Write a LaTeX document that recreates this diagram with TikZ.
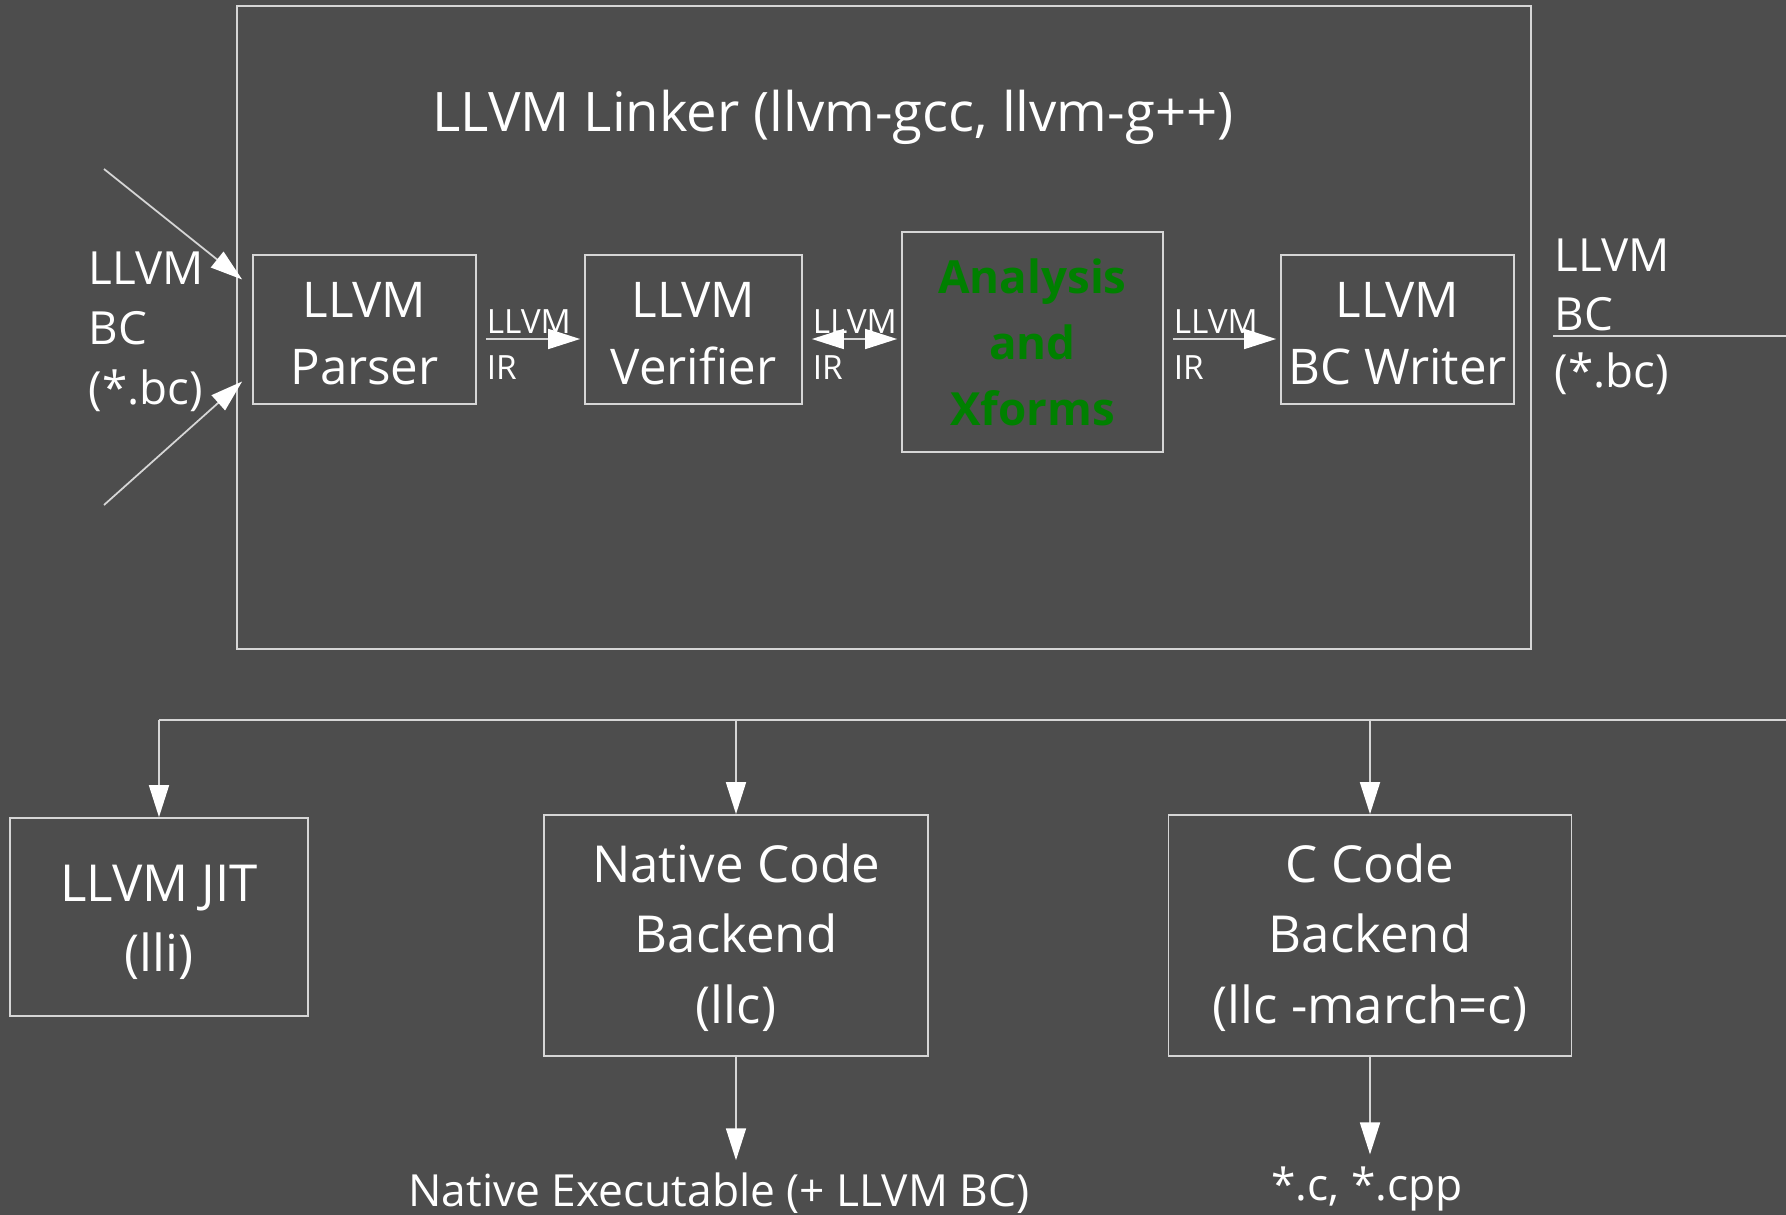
\documentclass[tikz,border=0pt]{standalone}
\usepackage{fontspec}
\setmainfont{Open Sans}
\usetikzlibrary{arrows.meta,positioning,calc}
\definecolor{slate}{RGB}{77,77,77}
\definecolor{wire}{RGB}{214,214,214}
\definecolor{xgreen}{RGB}{0,128,0}
\tikzset{
  >={Triangle[length=0.32cm,width=0.2cm,color=white]},
  pass/.style={draw=wire,line width=0.5pt,minimum width=2.2cm,minimum height=1.49cm,inner sep=0pt,align=center,text=white,font=\fontsize{14}{19}\selectfont},
  tool/.style={pass,minimum height=2.41cm,font=\fontsize{14.5}{20}\selectfont},
  tag/.style={text=white,align=left,inner sep=0pt,font=\fontsize{13}{17}\selectfont},
  irtop/.style={text=white,inner sep=0pt,pos=0,anchor=south west,xshift=0.09cm,yshift=0.05cm,font=\fontsize{9.5}{11}\selectfont},
  irbot/.style={irtop,anchor=north west,yshift=-0.21cm},
  link/.style={draw=wire,line width=0.5pt},
  irlink/.style={link,shorten <=0.09cm,shorten >=0.04cm}
}
\begin{document}
\begin{tikzpicture}
\fill[slate] (0,0) rectangle (17.86,-12.15);
\useasboundingbox (0,0) rectangle (17.86,-12.15);
\node[draw=wire,line width=0.5pt,minimum width=12.94cm,minimum height=6.43cm,inner sep=0pt] (linker) at (8.84,-3.275) {};
\node[text=white,font=\fontsize{15.5}{20}\selectfont] (title) at (8.33,-1.17) {LLVM Linker (llvm-gcc, llvm-g++)};
\node[pass,minimum width=2.23cm,text height=1.1cm,text depth=0pt] (parser) at (3.645,-3.295) {LLVM\\Parser};
\node[pass,minimum width=2.17cm,text height=1.1cm,text depth=0pt] (verifier) at (6.935,-3.295) {LLVM\\Verifier};
\node[pass,minimum width=2.61cm,minimum height=2.2cm,text=xgreen,font=\bfseries\fontsize{13}{18.8}\selectfont] (xforms) at (10.325,-3.42) {Analysis\\and\\Xforms};
\node[pass,minimum width=2.33cm,text height=1.1cm,text depth=0pt] (writer) at (13.975,-3.295) {LLVM\\BC Writer};
\coordinate (ir) at (0,-3.39);
\draw[irlink,->] (parser.east |- ir) -- node[irtop]{LLVM} node[irbot]{IR} (verifier.west |- ir);
\draw[irlink,<->] (verifier.east |- ir) -- node[irtop]{LLVM} node[irbot]{IR} (xforms.west |- ir);
\draw[irlink,->] (xforms.east |- ir) -- node[irtop]{LLVM} node[irbot]{IR} (writer.west |- ir);
\node[tag,anchor=west] (bcin) at (0.88,-3.32) {LLVM\\BC\\(*.bc)};
\coordinate (inA) at (1.04,-1.69);
\coordinate (inB) at (1.04,-5.05);
\draw[link,->] (inA) -- ($(parser.west)+(-0.1,0.5)$);
\draw[link,->] (inB) -- ($(parser.west)+(-0.1,-0.52)$);
\node[tag,anchor=west] (bcout) at (15.54,-2.85) {LLVM\\BC};
\node[tag,anchor=west] (bcext) at (15.54,-3.74) {(*.bc)};
\coordinate (outL) at (15.53,-3.36);
\coordinate (outR) at (17.86,-3.36);
\draw[link] (outL) -- (outR);
\node[tool,minimum width=2.98cm,minimum height=1.98cm,text height=1.21cm,text depth=0.12cm] (jit) at (1.59,-9.17) {LLVM JIT\\(lli)};
\node[tool,minimum width=3.84cm,text height=1.87cm,text depth=0.12cm] (native) at (7.36,-9.355) {Native Code\\Backend\\(llc)};
\node[tool,minimum width=4.03cm,text height=1.87cm,text depth=0.12cm] (cback) at (13.70,-9.355) {C Code\\Backend\\(llc -march=c)};
\coordinate (busR) at (17.86,-7.20);
\draw[link] (busR) -- (busR -| jit.north);
\foreach \n in {jit,native,cback}
  \draw[link,->] (busR -| \n.north) -- (\n.north);
\node[text=white,font=\fontsize{12.6}{16}\selectfont] (exe) at (7.19,-11.93) {Native Executable (+ LLVM BC)};
\node[text=white,font=\fontsize{12.6}{16}\selectfont] (cfiles) at (13.67,-11.89) {*.c, *.cpp};
\draw[link,->] (native.south) -- (native.south |- exe.north);
\draw[link,->] (cback.south) -- (cback.south |- cfiles.north);
\end{tikzpicture}
\end{document}
